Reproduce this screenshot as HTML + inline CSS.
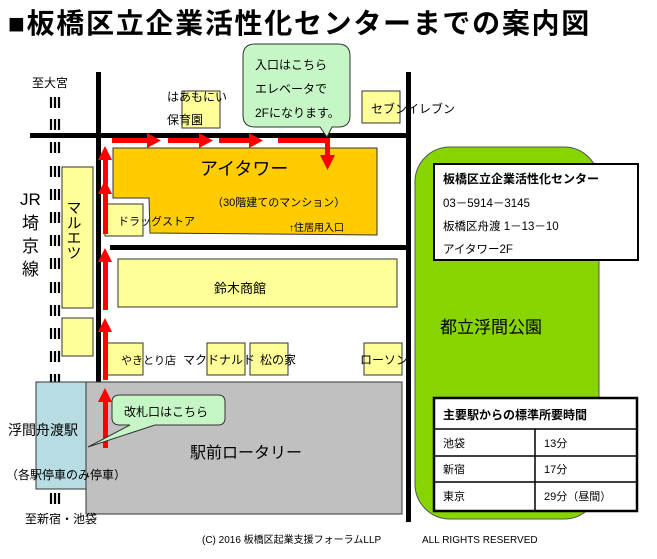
<!DOCTYPE html>
<html><head><meta charset="utf-8"><style>
body{margin:0;background:#fff;width:657px;height:559px;overflow:hidden}
svg{display:block;font-family:"Liberation Sans","Noto Sans CJK JP",sans-serif}
</style></head><body>
<svg width="657" height="559" viewBox="0 0 657 559" xmlns="http://www.w3.org/2000/svg">
<text x="8" y="33" font-size="28" font-weight="bold" letter-spacing="1.7">■板橋区立企業活性化センターまでの案内図</text>
<g stroke="#000" stroke-width="2.2">
<path d="M51 97v11M55 97v11M59 97v11 M51 119v11M55 119v11M59 119v11 M51 142v11M55 142v11M59 142v11 M51 166v11M55 166v11M59 166v11 M51 189v11M55 189v11M59 189v11 M51 212v11M55 212v11M59 212v11 M51 235v11M55 235v11M59 235v11 M51 258v11M55 258v11M59 258v11 M51 282v11M55 282v11M59 282v11 M51 305v11M55 305v11M59 305v11 M51 328v11M55 328v11M59 328v11 M51 351v11M55 351v11M59 351v11 M51 374v8M55 374v8M59 374v8 M51 493v11M55 493v11M59 493v11"/>
</g>
<text x="32" y="87" font-size="12">至大宮</text>
<text x="20" y="205" font-size="17">JR</text>
<text x="22" y="229" font-size="17">埼</text>
<text x="22" y="252" font-size="17">京</text>
<text x="22" y="275" font-size="17">線</text>
<g fill="#000">
<rect x="96" y="72" width="5" height="310"/>
<rect x="30" y="133" width="380" height="5"/>
<rect x="406" y="72" width="5" height="450"/>
<rect x="110" y="245" width="300" height="5"/>
</g>
<g fill="#FFFF99" stroke="#333" stroke-width="1">
<rect x="62" y="167" width="31" height="141"/>
<rect x="62" y="318" width="31" height="38"/>
<rect x="182" y="91" width="38" height="37"/>
<rect x="362" y="91" width="38" height="32"/>
<rect x="105" y="204" width="38" height="32"/>
<rect x="118" y="259" width="279" height="48"/>
<rect x="105" y="343" width="38" height="32"/>
<rect x="207" y="343" width="38" height="32"/>
<rect x="250" y="343" width="38" height="32"/>
<rect x="364" y="343" width="38" height="32"/>
</g>
<text x="73" y="200" font-size="15" writing-mode="tb">マルエツ</text>
<text x="167" y="101" font-size="12">はあもにい</text>
<text x="167" y="124" font-size="12">保育園</text>
<text x="371" y="113" font-size="12">セブンイレブン</text>
<path d="M113 148L377 148L377 235L150 233L149 198L113 198Z" fill="#FFCC00" stroke="#333" stroke-width="1"/>
<text x="200" y="175" font-size="18">アイタワー</text>
<text x="212" y="206" font-size="11">（30階建てのマンション）</text>
<text x="289" y="231" font-size="10">↑住居用入口</text>
<text x="118" y="225" font-size="11">ドラッグストア</text>
<text x="214" y="293" font-size="13">鈴木商館</text>
<text x="121" y="364" font-size="11">やきとり店</text>
<text x="183" y="364" font-size="12">マクドナルド</text>
<text x="260" y="364" font-size="12">松の家</text>
<text x="360" y="364" font-size="12">ローソン</text>
<rect x="415" y="147" width="184" height="372" rx="35" fill="#88D400" stroke="#555" stroke-width="1"/>
<text x="440" y="333" font-size="17">都立浮間公園</text>
<rect x="434" y="164" width="204" height="96" fill="#fff" stroke="#000" stroke-width="2"/>
<text x="443" y="183" font-size="12" font-weight="bold">板橋区立企業活性化センター</text>
<text x="443" y="207" font-size="11.5">03－5914－3145</text>
<text x="443" y="230" font-size="11.5">板橋区舟渡 1－13－10</text>
<text x="443" y="253" font-size="11.5">アイタワー2F</text>
<g fill="#fff" stroke="#000" stroke-width="1.5">
<rect x="434" y="398" width="203" height="113" stroke-width="2.5"/>
<line x1="434" y1="429" x2="637" y2="429"/>
<line x1="434" y1="456" x2="637" y2="456"/>
<line x1="434" y1="482" x2="637" y2="482"/>
<line x1="535" y1="429" x2="535" y2="511"/>
</g>
<text x="443" y="419" font-size="12" font-weight="bold">主要駅からの標準所要時間</text>
<g font-size="11"><text x="443" y="447">池袋</text><text x="544" y="447">13分</text>
<text x="443" y="473">新宿</text><text x="544" y="473">17分</text>
<text x="443" y="500">東京</text><text x="544" y="500">29分（昼間）</text></g>
<rect x="86" y="382" width="316" height="132" fill="#C0C0C0" stroke="#333" stroke-width="1"/>
<rect x="36" y="382" width="50" height="107" fill="#B7DDE3" stroke="#333" stroke-width="1"/>
<text x="190" y="458" font-size="16">駅前ロータリー</text>
<text x="8" y="435" font-size="14">浮間舟渡駅</text>
<text x="6" y="479" font-size="12">（各駅停車のみ停車）</text>
<text x="25" y="523" font-size="12">至新宿・池袋</text>
<text x="202" y="543" font-size="10">(C)  2016  板橋区起業支援フォーラムLLP</text>
<text x="422" y="543" font-size="10">ALL RIGHTS RESERVED</text>
<g fill="#FF0000">
<rect x="103" y="400" width="5" height="48"/><path d="M98 402L105 388L112 402Z"/>
<rect x="103" y="330" width="5" height="50"/><path d="M98 332L105 318L112 332Z"/>
<rect x="103" y="260" width="5" height="50"/><path d="M98 262L105 248L112 262Z"/>
<rect x="103" y="192" width="5" height="42"/><path d="M98 194L105 180L112 194Z"/>
<rect x="103" y="160" width="5" height="25"/><path d="M98 160L105 146L112 160Z"/>
<rect x="112" y="138" width="38" height="5"/><path d="M147 133L161 140.5L147 148Z"/>
<rect x="168" y="138" width="33" height="5"/><path d="M199 133L213 140.5L199 148Z"/>
<rect x="219" y="138" width="31" height="5"/><path d="M249 133L263 140.5L249 148Z"/>
<rect x="278" y="138" width="52" height="5"/><rect x="325" y="138" width="5" height="20"/>
<path d="M320 155L335 155L327.5 170Z"/>
</g>
<path d="M255 44H338Q350 44 350 56V116Q350 126 340 127L332 127L327 137L320 127H255Q243 127 243 115V56Q243 44 255 44Z" fill="#C6F5C6" stroke="#333" stroke-width="1"/>
<text x="255" y="69" font-size="12">入口はこちら</text>
<text x="255" y="93" font-size="12">エレベータで</text>
<text x="255" y="117" font-size="12">2Fになります。</text>
<path d="M120 395H218Q225 395 225 402V418Q225 425 218 425H155L88 447L130 425H120Q112 425 112 418V402Q112 395 120 395Z" fill="#C6F5C6" stroke="#333" stroke-width="1"/>
<text x="124" y="416" font-size="12">改札口はこちら</text>
</svg>
</body></html>
